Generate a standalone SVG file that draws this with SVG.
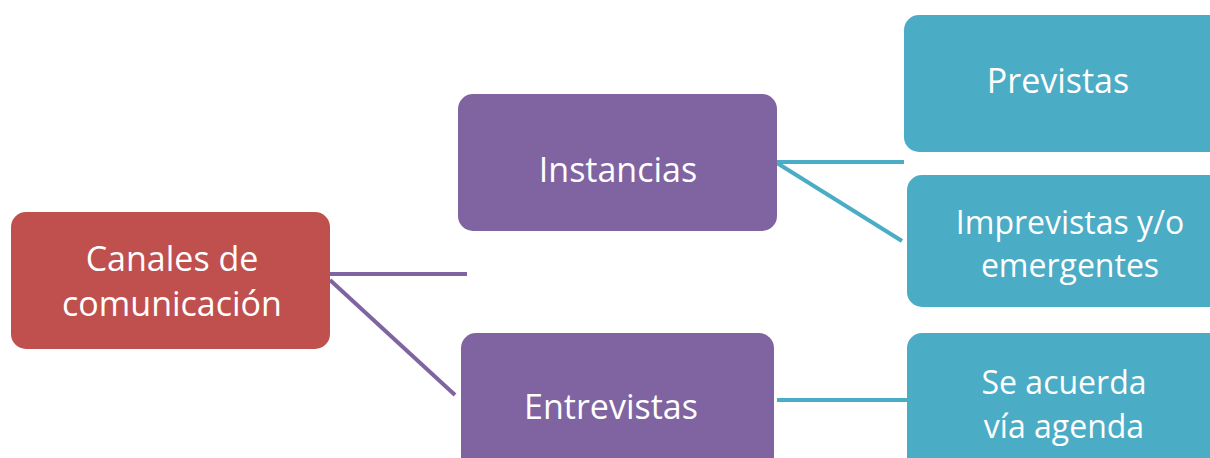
<svg xmlns="http://www.w3.org/2000/svg" width="1210" height="458" viewBox="0 0 1210 458">
<style>
.t{font-family:"Open Sans","Liberation Sans",sans-serif;font-size:34px;fill:#fff;text-anchor:middle}
.s{font-size:32px}
.red{fill:#C0504D}
.pur{fill:#8064A2}
.teal{fill:#4BACC6}
.cp{stroke:#8064A2;stroke-width:4;fill:none}
.ct{stroke:#4BACC6;stroke-width:4;fill:none}
</style>
<rect width="1210" height="458" fill="#fff"/>
<g id="connectors">
<line class="cp" x1="330" y1="274" x2="467" y2="274"/>
<line class="cp" x1="330" y1="280" x2="455" y2="395"/>
<line class="ct" x1="777" y1="162" x2="904" y2="162"/>
<line class="ct" x1="777" y1="163" x2="902" y2="241"/>
<line class="ct" x1="777" y1="400" x2="907" y2="400"/>
</g>
<g id="canales">
<rect class="red" x="11" y="212" width="319" height="137" rx="15"/>
<text class="t" x="172" y="271">Canales de</text>
<text class="t" x="172" y="316">comunicación</text>
</g>
<g id="instancias">
<rect class="pur" x="458" y="94" width="319" height="137" rx="15"/>
<text class="t" x="618" y="182">Instancias</text>
</g>
<g id="entrevistas">
<rect class="pur" x="461" y="333" width="313" height="140" rx="15"/>
<text class="t" x="611" y="419">Entrevistas</text>
</g>
<g id="previstas">
<rect class="teal" x="904" y="15" width="330" height="137" rx="15"/>
<text class="t" x="1058" y="93">Previstas</text>
</g>
<g id="imprevistas">
<rect class="teal" x="907" y="175" width="330" height="132" rx="15"/>
<text class="t s" x="1070" y="234">Imprevistas y/o</text>
<text class="t s" x="1070" y="277">emergentes</text>
</g>
<g id="acuerda">
<rect class="teal" x="907" y="333" width="330" height="140" rx="15"/>
<text class="t s" x="1064" y="394">Se acuerda</text>
<text class="t s" x="1064" y="438">vía agenda</text>
</g>
</svg>
